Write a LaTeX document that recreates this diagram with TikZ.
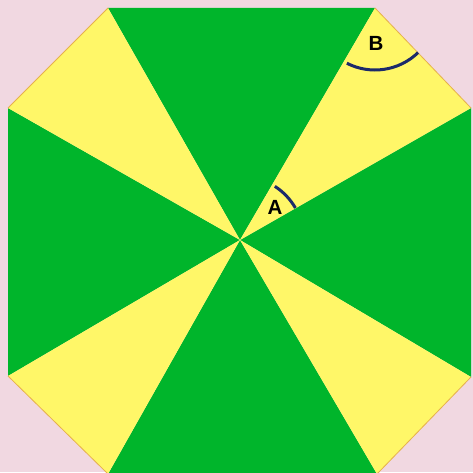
\documentclass[tikz,border=0pt]{standalone}
\usepackage{fontspec}
\setmainfont{Liberation Sans}
\definecolor{bgpink}{HTML}{F1D8E1}
\definecolor{wedgegreen}{HTML}{00B52B}
\definecolor{wedgeyellow}{HTML}{FFF768}
\definecolor{arcnavy}{HTML}{1C2A6A}
\definecolor{rimtan}{HTML}{E6B04C}

\begin{document}
\begin{tikzpicture}[x=1pt, y=1pt,
    greenwedge/.style={fill=wedgegreen},
    yellowwedge/.style={fill=wedgeyellow},
    anglearc/.style={draw=arcnavy, line width=3pt},
    anglelabel/.style={font=\fontsize{20.5}{22}\selectfont\bfseries, text=black, inner sep=0pt}]
  \useasboundingbox (0,0) rectangle (473,472);
  \fill[bgpink] (0,0) rectangle (473,472);
  \clip (0,0) rectangle (473,472);
  % Centre and corners of the octagon
  \coordinate (O)  at (240,232);
  \coordinate (P1) at (108,464);
  \coordinate (P2) at (375,464);
  \coordinate (P3) at (471,364);
  \coordinate (P4) at (471,95);
  \coordinate (P5) at (377,-2);
  \coordinate (P6) at (108,-2);
  \coordinate (P7) at (8,96);
  \coordinate (P8) at (8,364);
  % Green wedges on the straight sides
  \fill[greenwedge] (O) -- (P1) -- (P2) -- cycle;
  \fill[greenwedge] (O) -- (P3) -- (P4) -- cycle;
  \fill[greenwedge] (O) -- (P5) -- (P6) -- cycle;
  \fill[greenwedge] (O) -- (P7) -- (P8) -- cycle;
  % Yellow wedges on the cut corners
  \fill[yellowwedge] (O) -- (P2) -- (P3) -- cycle;
  \fill[yellowwedge] (O) -- (P4) -- (P5) -- cycle;
  \fill[yellowwedge] (O) -- (P6) -- (P7) -- cycle;
  \fill[yellowwedge] (O) -- (P8) -- (P1) -- cycle;
  \draw[rimtan, line width=0.8pt] (P2) -- (P3) (P4) -- (P5) (P6) -- (P7) (P8) -- (P1);
  % Angles A and B
  \draw[anglearc] ([shift={(30:64)}]O) arc[start angle=30, end angle=57, radius=64];
  \draw[anglearc] ([shift={(-117:62)}]P2) arc[start angle=-117, end angle=-46, radius=62];
  \node[anglelabel] (A) at (275,265) {A};
  \node[anglelabel] (B) at (376,429) {B};
\end{tikzpicture}
\end{document}
